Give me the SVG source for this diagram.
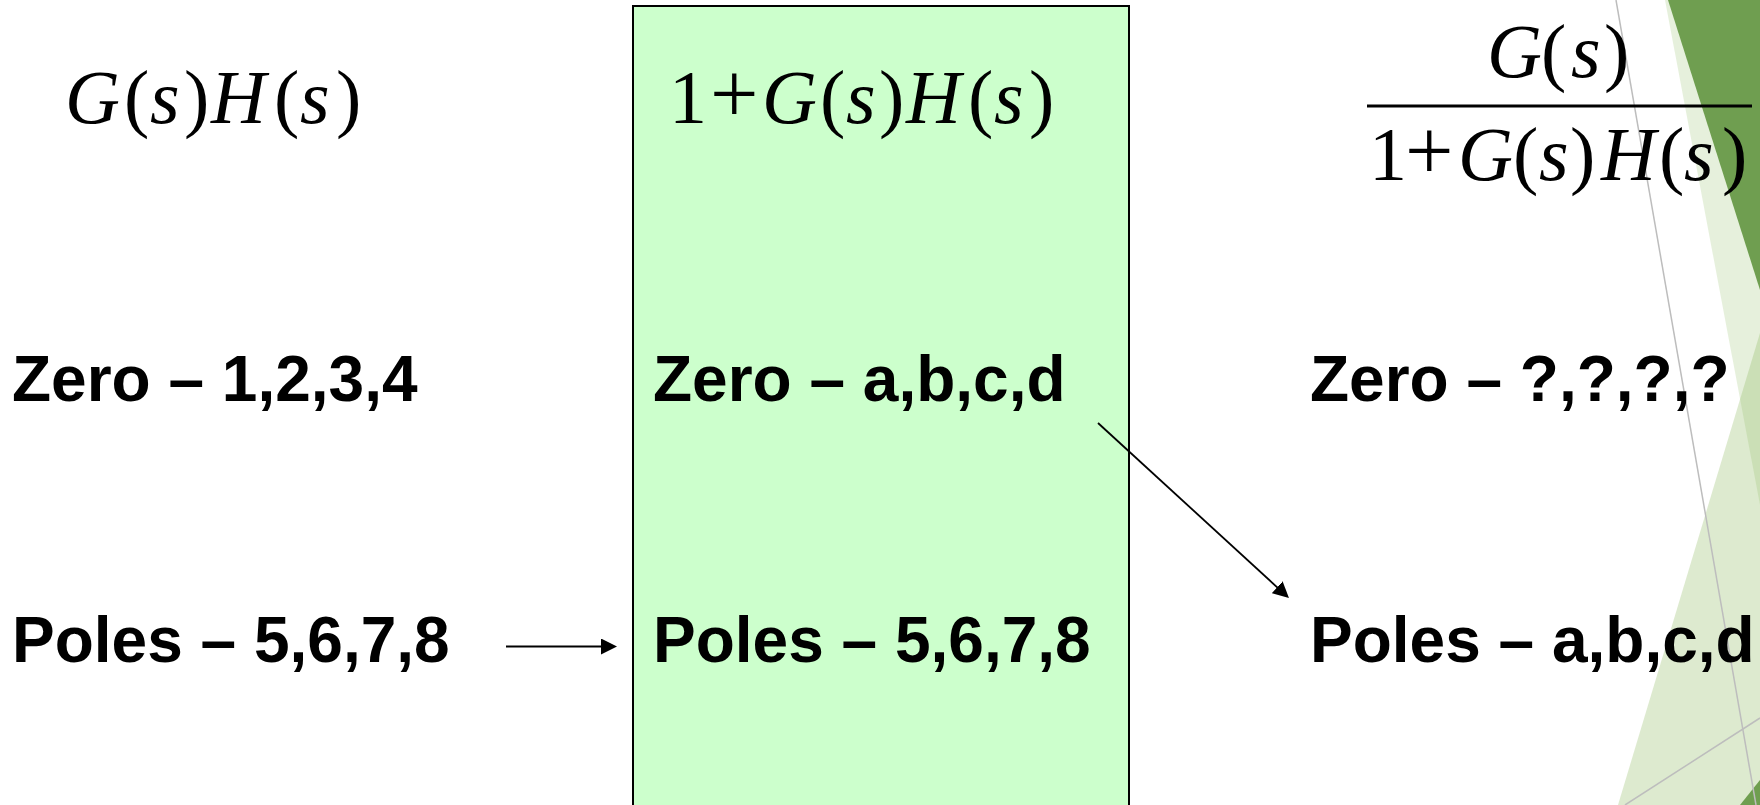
<svg xmlns="http://www.w3.org/2000/svg" width="1760" height="805" viewBox="0 0 1760 805">
  <style>
    .math { font-family: "Liberation Serif", "Times New Roman", serif; font-size: 76px; fill: #000; }
    .math .i { font-style: italic; }
    .math .op { font-size: 86px; }
    .lbl { font-family: "Liberation Sans", Arial, sans-serif; font-weight: bold; font-size: 64px; fill: #000; }
    .conn { stroke: #000; stroke-width: 1.8; fill: none; marker-end: url(#head); }
    .facet { stroke: none; }
  </style>
  <defs>
    <marker id="head" viewBox="0 0 16 16" refX="6" refY="8" markerWidth="16" markerHeight="16" markerUnits="userSpaceOnUse" orient="auto">
      <path d="M0,0 L16,8 L0,16 Z" fill="#000"/>
    </marker>
  </defs>

  <rect width="1760" height="805" fill="#fff"/>

  <!-- theme facets along the right edge -->
  <g id="decor">
    <polygon class="facet" points="1665,0 1760,0 1760,505" fill="#8DB960" fill-opacity="0.22"/>
    <polygon class="facet" points="1618,805 1760,333 1760,805" fill="#8DB960" fill-opacity="0.3"/>
    <polygon class="facet" points="1668,0 1760,0 1760,290" fill="#6F9E50"/>
    <polygon class="facet" points="1740,805 1760,780 1760,805" fill="#6F9E50"/>
    <line x1="1616" y1="0" x2="1756" y2="805" stroke="#BDBDBD" stroke-width="1.5"/>
    <line x1="1760" y1="718" x2="1625" y2="805" stroke="#BDBDBD" stroke-width="1.5"/>
  </g>

  <!-- open-loop column -->
  <g id="open-loop">
    <text class="math" y="123"><tspan class="i" x="65">G</tspan><tspan x="124">(</tspan><tspan class="i" x="150">s</tspan><tspan x="184">)</tspan><tspan class="i" x="211">H</tspan><tspan x="274">(</tspan><tspan class="i" x="300">s</tspan><tspan x="336">)</tspan></text>
    <text class="lbl" x="12" y="401">Zero – 1,2,3,4</text>
    <text class="lbl" x="12" y="662">Poles – 5,6,7,8</text>
  </g>

  <!-- characteristic equation column -->
  <g id="char-eq">
    <rect x="633" y="6" width="496" height="830" fill="#CCFFCC" stroke="#000" stroke-width="2"/>
    <text class="math" y="123"><tspan x="669">1</tspan><tspan class="op" x="710">+</tspan><tspan class="i" x="762">G</tspan><tspan x="820">(</tspan><tspan class="i" x="846">s</tspan><tspan x="879">)</tspan><tspan class="i" x="906">H</tspan><tspan x="968">(</tspan><tspan class="i" x="994">s</tspan><tspan x="1029">)</tspan></text>
    <text class="lbl" x="653" y="401">Zero – a,b,c,d</text>
    <text class="lbl" x="653" y="662">Poles – 5,6,7,8</text>
  </g>

  <!-- closed-loop column -->
  <g id="closed-loop">
    <text class="math" y="77"><tspan class="i" x="1487">G</tspan><tspan x="1541">(</tspan><tspan class="i" x="1571">s</tspan><tspan x="1604">)</tspan></text>
    <line x1="1367" y1="106" x2="1752" y2="106" stroke="#000" stroke-width="3"/>
    <text class="math" y="180"><tspan x="1369">1</tspan><tspan class="op" x="1405">+</tspan><tspan class="i" x="1458">G</tspan><tspan x="1513">(</tspan><tspan class="i" x="1539">s</tspan><tspan x="1570">)</tspan><tspan class="i" x="1601">H</tspan><tspan x="1659">(</tspan><tspan class="i" x="1684">s</tspan><tspan x="1722">)</tspan></text>
    <text class="lbl" x="1310" y="401">Zero – ?,?,?,?</text>
    <text class="lbl" x="1310" y="662">Poles – a,b,c,d</text>
  </g>

  <g id="connectors">
    <line class="conn" x1="506" y1="646.5" x2="607" y2="646.5"/>
    <line class="conn" x1="1098" y1="423" x2="1281.6" y2="591.3"/>
  </g>
</svg>
